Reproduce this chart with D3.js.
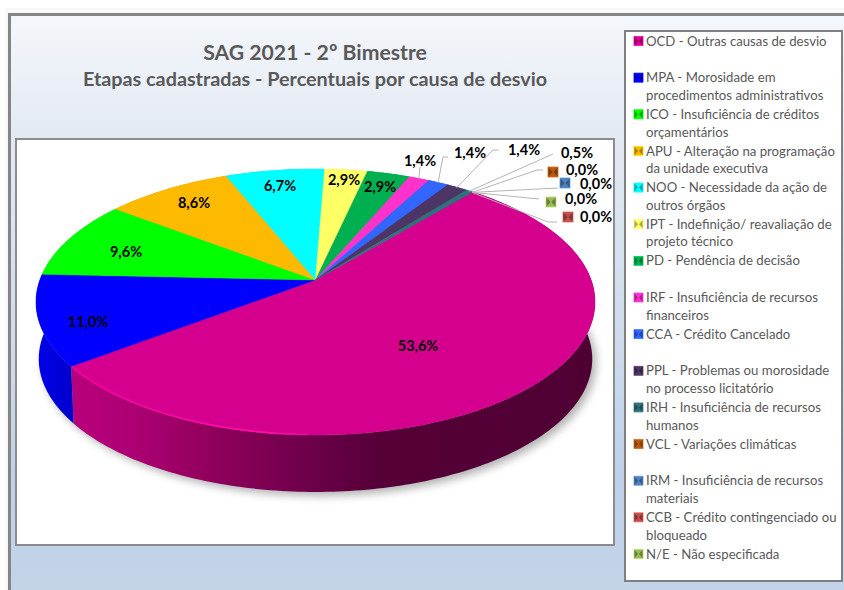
<!DOCTYPE html>
<html>
<head>
<meta charset="utf-8">
<script src="https://cdn.jsdelivr.net/npm/d3@7"></script>
<style>
    body { margin: 0; background: #fff; }
    text { font-family: Lato, sans-serif; }
</style>
</head>
<body>
<div id="chart"></div>
<script>
// DATA
// ================================================================================== //
const categories = ["OCD", "MPA", "ICO", "APU", "NOO", "IPT", "PD", "IRF", "CCA", "PPL", "IRH", "VCL", "IRM", "CCB", "N/E"];
const percentages = [53.6, 11.0, 9.6, 8.6, 6.7, 2.9, 2.9, 1.4, 1.4, 1.4, 0.5, 0.0, 0.0, 0.0, 0.0];
const sliceColors = ["#d6008f", "#0000ff", "#00ff00", "#fdba00", "#00ffff", "#ffff66", "#00b050", "#ff33cc",
    "#3366ff", "#4d3566", "#31707d", "#b85a10", "#4f81bd", "#c0504d", "#9bbb59"];
const legendLabels = [
    ["OCD - Outras causas de desvio"],
    ["MPA - Morosidade em", "procedimentos administrativos"],
    ["ICO - Insuficiência de créditos", "orçamentários"],
    ["APU - Alteração na programação", "da unidade executiva"],
    ["NOO - Necessidade da ação de", "outros órgãos"],
    ["IPT - Indefinição/ reavaliação de", "projeto técnico"],
    ["PD - Pendência de decisão"],
    ["IRF - Insuficiência de recursos", "financeiros"],
    ["CCA - Crédito Cancelado"],
    ["PPL - Problemas ou morosidade", "no processo licitatório"],
    ["IRH - Insuficiência de recursos", "humanos"],
    ["VCL - Variações climáticas"],
    ["IRM - Insuficiência de recursos", "materiais"],
    ["CCB - Crédito contingenciado ou", "bloqueado"],
    ["N/E - Não especificada"]
];
const titleText = "SAG 2021 - 2º Bimestre";
const subtitleText = "Etapas cadastradas - Percentuais por causa de desvio";

// hand placed labels, like the dragged ones in the original spreadsheet
// [label x, label y], then the leader elbow(s) and the key swatch when there is one
const labelPlacement = [
    { at: [418, 346] }, { at: [88, 322] }, { at: [126, 252] }, { at: [194, 203] }, { at: [280, 186] },
    { at: [344, 180] }, { at: [380, 187] },
    { at: [420, 161], leader: [[420, 167]] },
    { at: [470, 153], leader: [[443, 157], [448, 157]] },
    { at: [524, 150], leader: [[493, 150], [499, 150]] },
    { at: [577, 153], leader: [[553, 154]] },
    { at: [582, 170], leader: [[537, 170], [543, 170]], key: [553, 172] },
    { at: [596, 184], leader: [[558, 188]], key: [565, 183] },
    { at: [596, 217], leader: [[548, 222], [557, 222]], key: [568, 217] },
    { at: [581, 199], leader: [[539, 199]], key: [551, 202] }
];
// ================================================================================== //

const width = 844;
const height = 590;
const fmt = v => d3.format(".1f")(v).replace(".", ",") + "%";

const svg = d3.select("#chart").append("svg")
    .attr("width", width)
    .attr("height", height)
    .style("display", "block");

const defs = svg.append("defs");

const addGradient = (id, x1, x2, y1, y2, stops) => {
    const g = defs.append("linearGradient")
        .attr("id", id)
        .attr("gradientUnits", "userSpaceOnUse")
        .attr("x1", x1).attr("x2", x2).attr("y1", y1).attr("y2", y2);
    stops.forEach(([o, c]) => g.append("stop").attr("offset", o).attr("stop-color", c));
};

addGradient("panelFill", 0, 0, 16, 590, [[0, "#f4f7fb"], [0.2, "#e4eaf4"], [0.55, "#cfdcec"], [0.8, "#bfd1e8"], [1, "#c3d4e9"]]);
// wall of the big slice, x runs over the pie width
addGradient("wallMain", 73, 595, 0, 0, [[0, "#b8007c"], [0.11, "#ad0074"], [0.24, "#95005f"], [0.44, "#6f004b"], [0.59, "#550037"], [1, "#4f0033"]]);
addGradient("wallBlue", 36, 77, 0, 0, [[0, "#0000ea"], [1, "#0000c8"]]);
addGradient("rimLight", 73, 340, 0, 0, [[0, "#f5009f"], [0.75, "#ff10a8"], [1, "#d6008f"]]);

const blur = defs.append("filter").attr("id", "softShadow")
    .attr("x", "-10%").attr("y", "-10%").attr("width", "120%").attr("height", "120%");
blur.append("feGaussianBlur").attr("stdDeviation", 4);

// FRAME
svg.append("rect").attr("x", 5).attr("y", 8).attr("width", 839).attr("height", 582).attr("fill", "#f8f8f8");
svg.append("rect")
    .attr("x", 9.5).attr("y", 14.5).attr("width", 840).attr("height", 590)
    .attr("fill", "url(#panelFill)")
    .attr("stroke", "#858585")
    .attr("stroke-width", 3);

svg.append("text")
    .attr("x", 315).attr("y", 60)
    .attr("text-anchor", "middle")
    .attr("font-size", 21.2).attr("font-weight", 700)
    .attr("fill", "#595959")
    .text(titleText);
svg.append("text")
    .attr("x", 315).attr("y", 86)
    .attr("text-anchor", "middle")
    .attr("font-size", 19.8).attr("font-weight", 700)
    .attr("fill", "#595959")
    .text(subtitleText);

svg.append("rect")
    .attr("x", 16).attr("y", 139).attr("width", 598).attr("height", 406)
    .attr("fill", "#fff")
    .attr("stroke", "#8c8c8c")
    .attr("stroke-width", 2);

// PIE
// ================================================================================== //
const cx = 315.5;
const cy = 280;
const rx = 275.7;
const ry = 129.4;
const persp = 0.165;
const depth = 57;
const bottomScale = 0.99;

// disc seen in perspective, front is bigger than back. angle 0 = up, clockwise
const project = (angle, r = 1) => {
    const u = Math.sin(angle) * r;
    const v = -Math.cos(angle) * r;
    const w = 1 - persp * v;
    return [cx + rx * u / w, cy + ry * v / w];
};
const projectBottom = (angle) => {
    const [x, y] = project(angle);
    return [cx + (x - cx) * bottomScale, y + depth];
};

const pie = d3.pie().sort(null).value(d => d)
    .startAngle(40 * Math.PI / 180)
    .endAngle(400 * Math.PI / 180);
const slices = pie(percentages);
const color = d3.scaleOrdinal(categories, sliceColors);
const line = d3.line();

const rimAngles = (a0, a1) => {
    const n = Math.max(2, Math.ceil((a1 - a0) / (Math.PI / 180)));
    return d3.range(n + 1).map(i => a0 + (a1 - a0) * i / n);
};

const pieGroup = svg.append("g");

// soft shadow under the whole pie
const fullCircle = rimAngles(0, 2 * Math.PI);
pieGroup.append("path")
    .attr("d", line(fullCircle.map(projectBottom)) + "Z")
    .attr("transform", "translate(4,4)")
    .attr("fill", "#000")
    .attr("opacity", 0.3)
    .attr("filter", "url(#softShadow)");

const wallFill = (d, i) => {
    if (i === 0) return "url(#wallMain)";
    if (i === 1) return "url(#wallBlue)";
    return d3.color(sliceColors[i]).darker(0.6);
};

pieGroup.append("g").selectAll("path")
    .data(slices)
    .join("path")
    .attr("d", d => {
        const angles = rimAngles(d.startAngle, d.endAngle);
        return line(angles.map(a => project(a)).concat(angles.slice().reverse().map(projectBottom))) + "Z";
    })
    .attr("fill", wallFill);

pieGroup.append("g").selectAll("path")
    .data(slices)
    .join("path")
    .attr("d", d => line([[cx, cy]].concat(rimAngles(d.startAngle, d.endAngle).map(a => project(a)))) + "Z")
    .attr("fill", (d, i) => color(categories[i]))
    .attr("stroke", (d, i) => d.value > 0 ? color(categories[i]) : "none")
    .attr("stroke-width", 0.4);

// bright edge where the top meets the wall on the big slice
pieGroup.append("path")
    .attr("d", line(rimAngles(slices[0].endAngle - 0.9, slices[0].endAngle).map(a => project(a, 0.998))))
    .attr("fill", "none")
    .attr("stroke", "url(#rimLight)")
    .attr("stroke-width", 1.6);

// LEADERS AND LABELS
const labelGroup = svg.append("g");

labelGroup.selectAll("path")
    .data(slices.map((d, i) => ({ d, i })).filter(o => labelPlacement[o.i].leader))
    .join("path")
    .attr("d", o => line([project((o.d.startAngle + o.d.endAngle) / 2, 0.995)].concat(labelPlacement[o.i].leader)))
    .attr("fill", "none")
    .attr("stroke", "#b4b4b4")
    .attr("stroke-width", 1);

// bevelled swatch used by the legend and by the zero labels
const drawKey = (sel, size, c) => {
    const s = size / 2;
    sel.append("rect")
        .attr("x", -s).attr("y", -s).attr("width", size).attr("height", size)
        .attr("fill", c);
    sel.append("path")
        .attr("d", `M${-s},${-s}L${-s * 0.1},0L${-s},${s}Z M${s},${-s}L${s * 0.1},0L${s},${s}Z`)
        .attr("fill", d3.color(c).darker(1.1));
    sel.append("rect")
        .attr("x", -s).attr("y", -s).attr("width", size).attr("height", size)
        .attr("fill", "none")
        .attr("stroke", d3.color(c).brighter(0.5))
        .attr("stroke-width", 0.8);
};

percentages.forEach((v, i) => {
    const p = labelPlacement[i];
    labelGroup.append("text")
        .attr("x", p.at[0]).attr("y", p.at[1])
        .attr("dy", "0.35em")
        .attr("text-anchor", "middle")
        .attr("font-size", 14.5).attr("font-weight", 700)
        .attr("fill", "#000")
        .text(fmt(v));
    if (p.key) {
        labelGroup.append("g")
            .attr("transform", `translate(${p.key[0]},${p.key[1]})`)
            .call(drawKey, 10, sliceColors[i]);
    }
});

// LEGEND
// ================================================================================== //
svg.append("rect")
    .attr("x", 625).attr("y", 31).attr("width", 217).attr("height", 550)
    .attr("fill", "#fff")
    .attr("stroke", "#808080")
    .attr("stroke-width", 2);

const legendY = d3.scalePoint().domain(categories).range([41, 554]);

const legend = svg.append("g").selectAll("g")
    .data(categories)
    .join("g")
    .attr("transform", d => `translate(0,${legendY(d)})`);

legend.each(function (d, i) {
    d3.select(this).append("g")
        .attr("transform", "translate(638.5,0)")
        .call(drawKey, 9, sliceColors[i]);
});

legend.selectAll("text")
    .data((d, i) => legendLabels[i])
    .join("text")
    .attr("x", 646)
    .attr("y", (d, i) => i * 17.6)
    .attr("dy", "0.35em")
    .attr("font-size", 13.2)
    .attr("fill", "#595959")
    .text(d => d);
</script>
</body>
</html>
